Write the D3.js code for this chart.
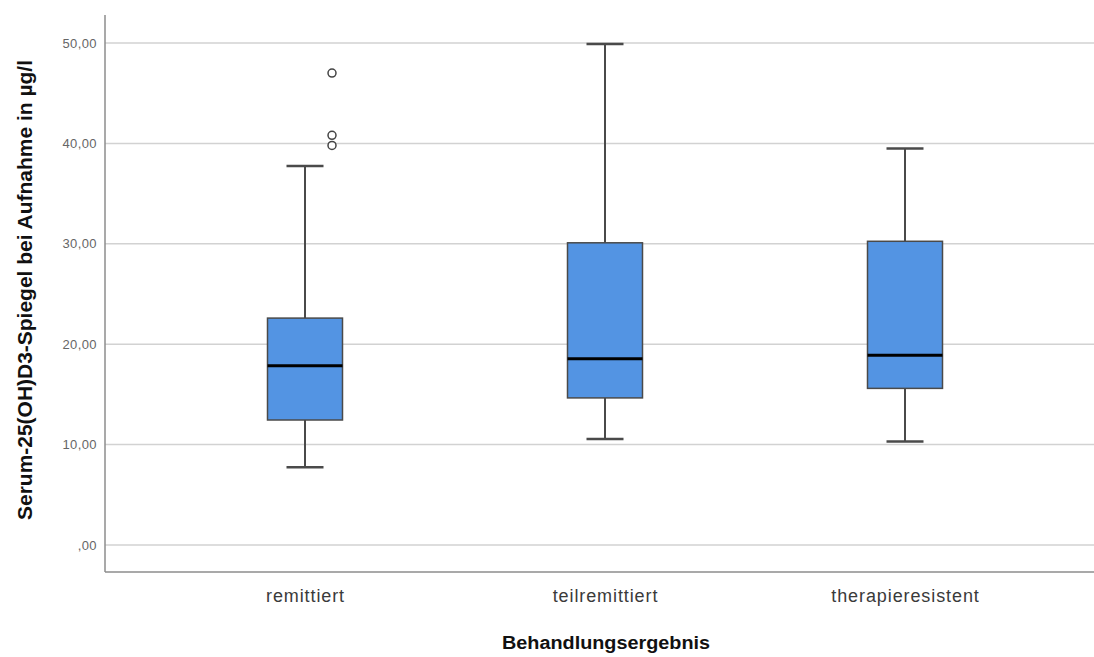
<!DOCTYPE html>
<html><head><meta charset="utf-8">
<script src="https://cdn.jsdelivr.net/npm/d3@7"></script>
<style>body{margin:0;background:#fff}svg{display:block}</style>
</head><body>
<script>
const categories = ["remittiert", "teilremittiert", "therapieresistent"];
const whiskerLow = [7.75, 10.55, 10.3];
const q1 = [12.45, 14.65, 15.6];
const median = [17.85, 18.55, 18.9];
const q3 = [22.6, 30.1, 30.25];
const whiskerHigh = [37.75, 49.9, 39.5];
const outliers = [[47.0, 40.8, 39.8], [], []];
const yTicks = [0, 10, 20, 30, 40, 50];
const yTickLabels = [",00", "10,00", "20,00", "30,00", "40,00", "50,00"];
const yTitle = "Serum-25(OH)D3-Spiegel bei Aufnahme in µg/l";
const xTitle = "Behandlungsergebnis";

(function () {
const W = 1094, H = 657;
const svg = d3.select("body").append("svg").attr("width", W).attr("height", H);
const pLeft = 105, pRight = 1094, pTop = 15, pBottom = 572;

const y = d3.scaleLinear().domain([0, 50]).range([545, 43]);
const x = d3.scalePoint().domain(categories).range([305, 905]);
const boxW = 75, capW = 37;

// gridlines
svg.append("g").selectAll("line").data(yTicks).join("line")
  .attr("x1", pLeft).attr("x2", pRight)
  .attr("y1", d => y(d)).attr("y2", d => y(d))
  .attr("stroke", "#d2d2d2").attr("stroke-width", 1.5);

// y axis
const yAxis = d3.axisLeft(y).tickValues(yTicks).tickSize(0).tickPadding(8)
  .tickFormat((d, i) => yTickLabels[i]);
const gy = svg.append("g").attr("transform", `translate(${pLeft},0)`).call(yAxis);
gy.select(".domain").remove();
gy.selectAll("text").attr("fill", "#666")
  .style("font-family", "'Liberation Sans', Arial, sans-serif").style("font-size", "13px")
  .style("letter-spacing", "0.4px");

// x axis
const xAxis = d3.axisBottom(x).tickSize(0).tickPadding(17);
const gx = svg.append("g").attr("transform", `translate(0,${pBottom})`).call(xAxis);
gx.select(".domain").remove();
gx.selectAll("text").attr("fill", "#3a3a3a")
  .style("font-family", "'Liberation Sans', Arial, sans-serif").style("font-size", "18px")
  .style("letter-spacing", "0.9px");

// axis lines
svg.append("line").attr("x1", pLeft).attr("x2", pLeft).attr("y1", pTop).attr("y2", pBottom)
  .attr("stroke", "#8c8c8c").attr("stroke-width", 1.5);
svg.append("line").attr("x1", pLeft).attr("x2", pRight).attr("y1", pBottom).attr("y2", pBottom)
  .attr("stroke", "#8c8c8c").attr("stroke-width", 1.5);

const idx = categories.map((c, i) => i);
const g = svg.append("g");
// whiskers
g.append("g").selectAll("line").data(idx).join("line")
  .attr("x1", i => x(categories[i])).attr("x2", i => x(categories[i]))
  .attr("y1", i => y(whiskerLow[i])).attr("y2", i => y(q1[i]))
  .attr("stroke", "#4a4a4a").attr("stroke-width", 2);
g.append("g").selectAll("line").data(idx).join("line")
  .attr("x1", i => x(categories[i])).attr("x2", i => x(categories[i]))
  .attr("y1", i => y(whiskerHigh[i])).attr("y2", i => y(q3[i]))
  .attr("stroke", "#4a4a4a").attr("stroke-width", 2);
// caps
[whiskerLow, whiskerHigh].forEach(arr => {
  g.append("g").selectAll("line").data(idx).join("line")
    .attr("x1", i => x(categories[i]) - capW / 2).attr("x2", i => x(categories[i]) + capW / 2)
    .attr("y1", i => y(arr[i])).attr("y2", i => y(arr[i]))
    .attr("stroke", "#4a4a4a").attr("stroke-width", 2.5);
});
// boxes
g.append("g").selectAll("rect").data(idx).join("rect")
  .attr("x", i => x(categories[i]) - boxW / 2).attr("width", boxW)
  .attr("y", i => y(q3[i])).attr("height", i => y(q1[i]) - y(q3[i]))
  .attr("fill", "#5394e3").attr("stroke", "#4a4a4a").attr("stroke-width", 1.5);
// medians
g.append("g").selectAll("line").data(idx).join("line")
  .attr("x1", i => x(categories[i]) - boxW / 2).attr("x2", i => x(categories[i]) + boxW / 2)
  .attr("y1", i => y(median[i])).attr("y2", i => y(median[i]))
  .attr("stroke", "#000").attr("stroke-width", 3);
// outliers
const outData = [];
outliers.forEach((arr, i) => arr.forEach(v => outData.push({ i, v })));
g.append("g").selectAll("circle").data(outData).join("circle")
  .attr("cx", d => x(categories[d.i]) + 27).attr("cy", d => y(d.v)).attr("r", 4)
  .attr("fill", "#fff").attr("stroke", "#444").attr("stroke-width", 1.5);

// titles
svg.append("text").attr("transform", `translate(32,290) rotate(-90)`)
  .attr("text-anchor", "middle").attr("fill", "#111")
  .attr("textLength", 460).attr("lengthAdjust", "spacingAndGlyphs")
  .style("font-family", "'Liberation Sans', Arial, sans-serif")
  .style("font-weight", "bold").style("font-size", "20px").text(yTitle);
svg.append("text").attr("x", 606).attr("y", 649).attr("text-anchor", "middle").attr("fill", "#111")
  .attr("textLength", 208).attr("lengthAdjust", "spacingAndGlyphs")
  .style("font-family", "'Liberation Sans', Arial, sans-serif")
  .style("font-weight", "bold").style("font-size", "18px").text(xTitle);
})();
</script>
</body></html>
